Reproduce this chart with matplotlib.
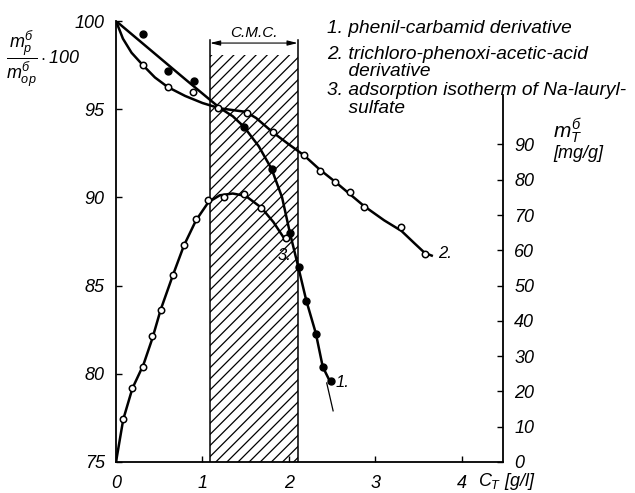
import matplotlib

matplotlib.use("Agg")
import matplotlib.pyplot as plt
from matplotlib.patches import Rectangle

# ---------------------------------------------------------------------------
# data
# ---------------------------------------------------------------------------
# curve 1: phenil-carbamid derivative (filled dots, left axis)
c1_x = [0.316, 0.605, 0.90, 1.48, 1.80, 2.01, 2.11, 2.20, 2.31, 2.39, 2.49]
c1_y = [99.26, 97.17, 96.62, 93.97, 91.59, 87.96, 86.04, 84.15, 82.26, 80.37, 79.59]
c1_line_x = [0.0, 0.4, 0.8, 1.2, 1.35, 1.48, 1.65, 1.80, 1.92, 2.01, 2.11, 2.20, 2.31, 2.39, 2.47]
c1_line_y = [100.0, 98.35, 96.7, 95.07, 94.6, 94.0, 92.9, 91.6, 90.0, 88.0, 86.0, 84.15, 82.3, 80.4, 79.6]
c1_ext_x = [2.436, 2.51]
c1_ext_y = [79.48, 77.9]

# curve 2: trichloro-phenoxi-acetic-acid derivative (open circles, left axis)
c2_x = [0.308, 0.605, 0.894, 1.18, 1.52, 1.81, 2.17, 2.36, 2.53, 2.70, 2.87, 3.30, 3.57]
c2_y = [97.5, 96.24, 95.96, 95.05, 94.80, 93.73, 92.40, 91.5, 90.9, 90.32, 89.47, 88.34, 86.79]
c2_line_x = [0.0, 0.08, 0.18, 0.31, 0.45, 0.6, 0.8, 1.0, 1.2, 1.35, 1.5, 1.62, 1.81,
             2.0, 2.17, 2.35, 2.53, 2.7, 2.87, 3.1, 3.3, 3.45, 3.57, 3.65]
c2_line_y = [100.0, 99.0, 98.2, 97.5, 96.8, 96.25, 95.75, 95.35, 95.05, 94.95, 94.85, 94.5,
             93.7, 93.0, 92.4, 91.6, 90.9, 90.2, 89.5, 88.7, 88.1, 87.4, 86.85, 86.7]

# curve 3: adsorption isotherm of Na-lauryl-sulfate (open circles, right axis)
c3_x = [0.084, 0.19, 0.316, 0.42, 0.517, 0.66, 0.786, 0.925, 1.067, 1.25, 1.48, 1.68, 1.96]
c3_y = [12.1, 20.9, 26.9, 35.6, 43.2, 53.1, 61.4, 68.75, 74.2, 75.1, 75.9, 72.1, 63.4]
c3_line_x = [0.0, 0.084, 0.19, 0.316, 0.42, 0.517, 0.66, 0.786, 0.925, 1.067, 1.2, 1.35,
             1.5, 1.68, 1.82, 1.96]
c3_line_y = [0.0, 12.1, 20.9, 27.5, 35.0, 43.2, 53.1, 61.4, 68.5, 73.6, 75.6, 76.1,
             75.4, 72.1, 68.0, 62.8]

# critical micelle concentration band
cmc_lo, cmc_hi = 1.087, 2.10

x_ticks = [0, 1, 2, 3, 4]
left_ticks = [75, 80, 85, 90, 95, 100]
right_ticks = [0, 10, 20, 30, 40, 50, 60, 70, 80, 90]

legend_items = [
    "1. phenil-carbamid derivative",
    "2. trichloro-phenoxi-acetic-acid\n    derivative",
    "3. adsorption isotherm of Na-lauryl-\n    sulfate",
]

# ---------------------------------------------------------------------------
plt.rcParams["font.family"] = ["Liberation Sans", "DejaVu Sans"]
plt.rcParams["font.style"] = "italic"
plt.rcParams["mathtext.fontset"] = "custom"
plt.rcParams["mathtext.it"] = "Liberation Sans:italic"
plt.rcParams["mathtext.rm"] = "Liberation Sans:italic"
plt.rcParams["hatch.linewidth"] = 0.9

W, H = 635, 493
fig = plt.figure(figsize=(W / 100, H / 100), dpi=100)
ax = fig.add_axes([116 / W, 31 / H, (503 - 116) / W, (462 - 21) / H])
ax.set_xlim(0, 4.474)
ax.set_ylim(75, 100)

ax2 = ax.twinx()
ax2.set_ylim(0, 125)

k = "black"

# C.M.C. band
ax.add_patch(Rectangle((cmc_lo, 75), cmc_hi - cmc_lo, 98.07 - 75,
                       fill=False, hatch="///", lw=0, edgecolor=k, zorder=1))
for xv in (cmc_lo, cmc_hi):
    ax.plot([xv, xv], [75, 98.95], color=k, lw=1.1, zorder=2)
ax.annotate("", xy=(cmc_lo, 98.75), xytext=(cmc_hi, 98.75),
            arrowprops=dict(arrowstyle="<|-|>,head_length=0.6,head_width=0.15",
                            color=k, lw=0.8, shrinkA=0, shrinkB=0))
ax.text((cmc_lo + cmc_hi) / 2, 99.3, "C.M.C.", ha="center", va="center", fontsize=11)

# curves
ax.plot(c1_line_x, c1_line_y, color=k, lw=1.8, zorder=3)
ax.plot(c1_ext_x, c1_ext_y, color=k, lw=0.9, zorder=3)
ax.plot(c1_x, c1_y, "o", color=k, ms=5, zorder=4)

ax.plot(c2_line_x, c2_line_y, color=k, lw=1.8, zorder=3)
ax.plot(c2_x, c2_y, "o", mfc="white", mec=k, mew=1.1, ms=4.6, zorder=4)

ax2.plot(c3_line_x, c3_line_y, color=k, lw=1.8, zorder=3)
ax2.plot(c3_x, c3_y, "o", mfc="white", mec=k, mew=1.1, ms=4.6, zorder=4)

# curve labels
ax.text(2.54, 79.5, "1.", fontsize=12, va="center")
ax.text(3.72, 86.8, "2.", fontsize=12, va="center")
ax.text(1.87, 86.7, "3.", fontsize=12, va="center")

# axes styling
for s in ("top", "right"):
    ax.spines[s].set_visible(False)
for s in ("top", "left", "bottom"):
    ax2.spines[s].set_visible(False)
ax2.spines["right"].set_bounds(0, 104)
ax.spines["left"].set_linewidth(1.3)
ax.spines["bottom"].set_linewidth(1.3)
ax2.spines["right"].set_linewidth(1.3)

ax.set_xticks(x_ticks)
ax.set_xticklabels([str(v) for v in x_ticks])
ax.set_yticks(left_ticks)
ax.set_yticklabels([str(v) for v in left_ticks])
ax2.set_yticks(right_ticks)
ax2.set_yticklabels([str(v) for v in right_ticks])
ax.tick_params(direction="in", length=4, width=1, labelsize=13, pad=8)
ax.tick_params(axis="x", pad=9)
ax2.tick_params(direction="in", length=4, width=1, labelsize=13, pad=8)

# axis titles
fig.text(478 / W, 1 - 482 / H, r"$C_T$ [g/l]", fontsize=13, va="center", ha="left")
fig.text(553 / W, 1 - 131 / H, r"$m_T^{б}$", fontsize=15, va="center", ha="left")
fig.text(553 / W, 1 - 153 / H, "[mg/g]", fontsize=13, va="center", ha="left")
fig.text(6 / W, 1 - 59 / H, r"$\dfrac{m_p^{б}}{m_{op}^{б}}\cdot 100$", fontsize=13,
         va="center", ha="left")

# legend block
legend_top = [20, 46, 82]
legend_ls = [1.0, 0.98, 1.05]
for txt, yy, ls in zip(legend_items, legend_top, legend_ls):
    fig.text(327 / W, 1 - yy / H, txt, fontsize=13.8, va="top", ha="left",
             linespacing=ls)

fig.savefig("out.png", dpi=100)
